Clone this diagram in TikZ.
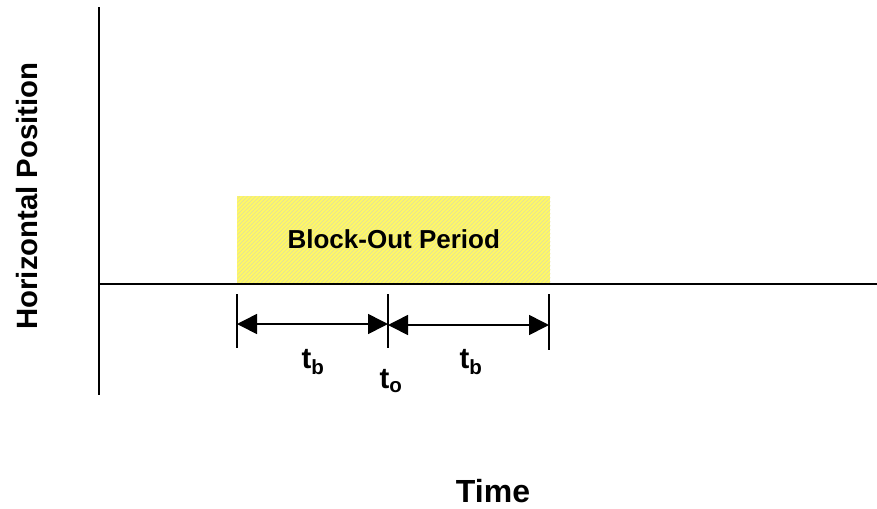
\documentclass[tikz,border=0pt]{standalone}
\usepackage{fontspec}
\setmainfont{Liberation Sans}
\usetikzlibrary{arrows.meta,patterns}
\newcommand{\tsub}[1]{\textbf{t}\textsubscript{\textbf{#1}}}
\begin{document}
\begin{tikzpicture}[x=0.75pt,y=-0.75pt]
\tikzstyle{axis}=[line width=1.6pt]
\tikzstyle{tick}=[line width=0.9pt]
\tikzstyle{span}=[line width=1.2pt,{Triangle[length=15pt,width=15pt]}-{Triangle[length=15pt,width=15pt]}]
\tikzstyle{lbl}=[font=\bfseries\fontsize{22}{26}\selectfont]
\useasboundingbox (0,0) rectangle (877,508);
% axes
\coordinate (top) at (99,7);
\coordinate (bot) at (99,395);
\coordinate (o) at (99,284);
\coordinate (end) at (877,284);
\draw[axis] (top) -- (bot);
\draw[axis] (o) -- (end);
% block-out period
\node (block) [anchor=south west,minimum width=234.75pt,minimum height=65pt,inner sep=0pt,
  preaction={fill=yellow!60},pattern=north east lines,pattern color=yellow!50!gray!50,
  font=\bfseries\fontsize{19.5}{23}\selectfont] at (237,283) {Block-Out Period};
% ticks
\coordinate (a1) at (237,294); \coordinate (a2) at (237,348);
\coordinate (b1) at (388,294); \coordinate (b2) at (388,348);
\coordinate (c1) at (549,294); \coordinate (c2) at (549,350);
\draw[tick] (a1) -- (a2);
\draw[tick] (b1) -- (b2);
\draw[tick] (c1) -- (c2);
\coordinate (la) at (237,324); \coordinate (lb) at (388,324);
\coordinate (ra) at (388,325); \coordinate (rb) at (549,325);
\draw[span] (la) -- (lb);
\draw[span] (ra) -- (rb);
% labels
\node (tb1) [lbl] at (313,362) {\tsub{b}};
\node (to) [lbl] at (391,381) {\tsub{o}};
\node (tb2) [lbl] at (471,362) {\tsub{b}};
\node (time) [lbl,font=\bfseries\fontsize{24}{28}\selectfont] at (493,491) {Time};
\node (pos) [lbl,rotate=90] at (27,196) {Horizontal Position};
\end{tikzpicture}
\end{document}
